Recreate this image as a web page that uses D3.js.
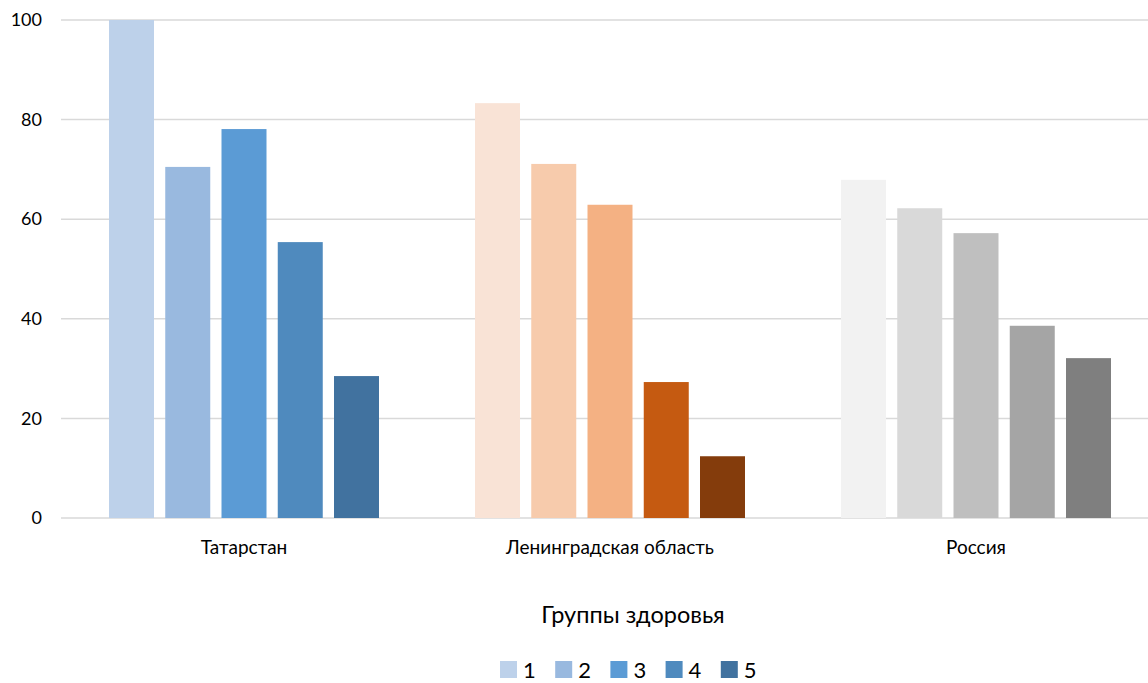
<!DOCTYPE html>
<html>
<head>
<meta charset="utf-8">
<script src="https://cdn.jsdelivr.net/npm/d3@7"></script>
<style>
  html, body { margin: 0; padding: 0; background: #fff; }
  svg { display: block; font-family: Lato, "Open Sans", sans-serif; }
</style>
</head>
<body>
<svg id="chart" width="1148" height="683"></svg>
<script>
// Regions and health groups
const regions = ["Татарстан", "Ленинградская область", "Россия"];
const groups = ["1", "2", "3", "4", "5"];

// Share per health group, one array per region
const tatarstan = [100, 70.5, 78.1, 55.4, 28.5];
const leningrad = [83.3, 71.1, 62.9, 27.3, 12.4];
const russia = [67.9, 62.2, 57.2, 38.6, 32.1];
const regionValues = [tatarstan, leningrad, russia];

// Each region uses its own shade family
const blues = ["#bdd1ea", "#99b9df", "#5b9bd5", "#4f8abe", "#41729f"];
const oranges = ["#f9e3d6", "#f7cbac", "#f4b183", "#c55a11", "#843c0c"];
const greys = ["#f2f2f2", "#d9d9d9", "#bfbfbf", "#a5a5a5", "#7f7f7f"];
const regionColors = [blues, oranges, greys];

const yTicks = [0, 20, 40, 60, 80, 100];
const axisTitle = "Группы здоровья";

const svg = d3.select("#chart");
const W = 1148;

const x0 = d3.scaleBand().domain(regions).range([61, 1159]).paddingInner(0).paddingOuter(0);
const x1 = d3.scaleBand().domain(groups).range([48, 366 - 48]).paddingInner(0.2).paddingOuter(0);
const y = d3.scaleLinear().domain([0, 100]).range([518, 20]);

// Horizontal gridlines
svg.append("g")
  .selectAll("line")
  .data(yTicks)
  .join("line")
  .attr("x1", 61).attr("x2", W)
  .attr("y1", d => y(d)).attr("y2", d => y(d))
  .attr("stroke", "#d9d9d9").attr("stroke-width", 1.5);

// Y axis labels
const yAxis = svg.append("g").attr("transform", "translate(42,0)")
  .call(d3.axisLeft(y).tickValues(yTicks).tickSize(0).tickPadding(0));
yAxis.select(".domain").remove();
yAxis.selectAll("text")
  .attr("font-size", 18).attr("fill", "#000")
  .attr("font-family", "Lato, 'Open Sans', sans-serif");

// Bars
const regionG = svg.append("g").selectAll("g")
  .data(regions)
  .join("g")
  .attr("transform", d => `translate(${x0(d)},0)`);

regionG.selectAll("rect")
  .data((r, i) => groups.map((g, j) => ({ g, v: regionValues[i][j], c: regionColors[i][j] })))
  .join("rect")
  .attr("x", d => x1(d.g))
  .attr("width", x1.bandwidth())
  .attr("y", d => y(d.v))
  .attr("height", d => y(0) - y(d.v))
  .attr("fill", d => d.c);

// Category axis
const xAxis = svg.append("g").attr("transform", `translate(0,${y(0)})`)
  .call(d3.axisBottom(x0).tickSize(0).tickPadding(23));
xAxis.select(".domain").remove();
xAxis.selectAll("text")
  .attr("font-size", 19).attr("fill", "#000")
  .attr("font-family", "Lato, 'Open Sans', sans-serif");

// Axis title
svg.append("text")
  .attr("x", 633).attr("y", 623)
  .attr("text-anchor", "middle")
  .attr("font-size", 23.5)
  .attr("fill", "#000")
  .text(axisTitle);

// Legend
const legend = svg.append("g").selectAll("g")
  .data(groups)
  .join("g")
  .attr("transform", (d, i) => `translate(${500 + i * 55.2},661)`);
legend.append("rect")
  .attr("width", 17).attr("height", 17)
  .attr("fill", (d, i) => blues[i]);
legend.append("text")
  .attr("x", 23).attr("y", 17)
  .attr("font-size", 22)
  .attr("fill", "#000")
  .text(d => d);
</script>
</body>
</html>
